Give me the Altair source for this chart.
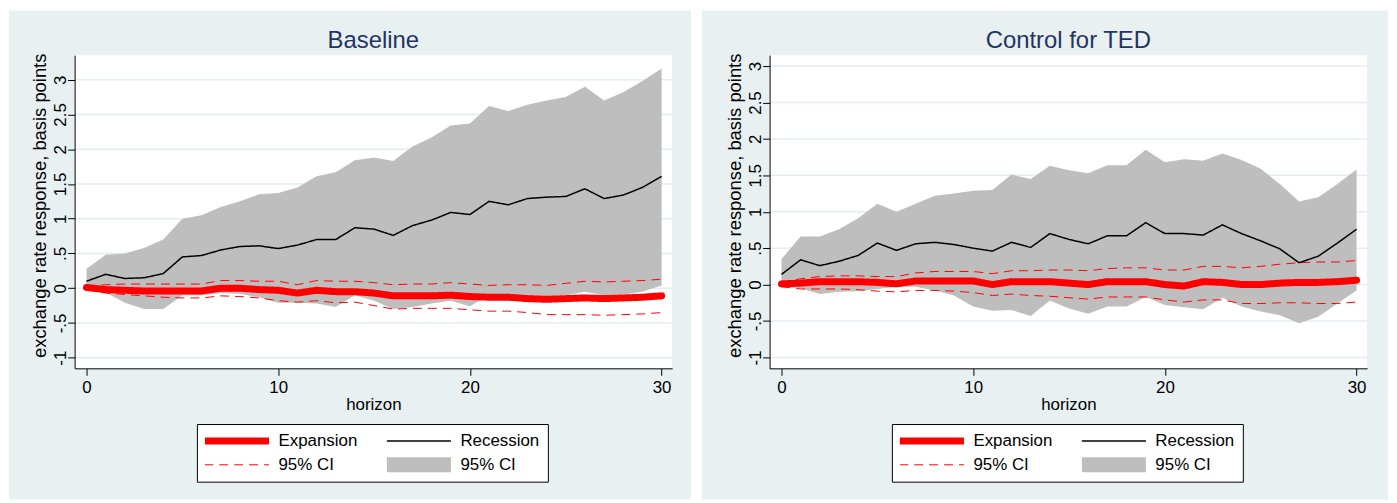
import altair as alt
import pandas as pd

FONT = "Liberation Sans, Arial, Helvetica, sans-serif"
BG = "#E8F0F2"
GRID = "#E4EDF0"
GRAY = "#BEBEBE"
RED = "#FF0000"
NAVY = "#1F3563"

HORIZON = list(range(31))
Y_TICKS = [-1, -0.5, 0, 0.5, 1, 1.5, 2, 2.5, 3]
X_TICKS = [0, 10, 20, 30]
SERIES = ["Expansion", "Recession", "CI_exp", "CI_rec"]
TITLES = ["Baseline", "Control for TED"]

# ---- Baseline panel ----
base_exp = [0.01, -0.02, -0.03, -0.04, -0.04, -0.04, -0.04, 0.00, 0.00, -0.02, -0.03, -0.07, -0.03, -0.05, -0.05,
            -0.07, -0.11, -0.11, -0.11, -0.10, -0.12, -0.13, -0.13, -0.15, -0.16, -0.15, -0.14, -0.15, -0.14, -0.13, -0.11]
base_exp_hi = [0.03, 0.05, 0.06, 0.06, 0.06, 0.06, 0.06, 0.11, 0.11, 0.10, 0.10, 0.05, 0.11, 0.10, 0.10,
               0.08, 0.05, 0.06, 0.06, 0.08, 0.06, 0.04, 0.05, 0.05, 0.04, 0.07, 0.10, 0.09, 0.10, 0.11, 0.13]
base_exp_lo = [-0.02, -0.07, -0.09, -0.11, -0.13, -0.14, -0.14, -0.11, -0.12, -0.14, -0.18, -0.20, -0.18, -0.21, -0.20,
               -0.25, -0.30, -0.29, -0.29, -0.29, -0.31, -0.33, -0.33, -0.35, -0.38, -0.38, -0.38, -0.39, -0.38, -0.37, -0.35]
base_rec = [0.10, 0.20, 0.14, 0.15, 0.21, 0.45, 0.47, 0.55, 0.60, 0.61, 0.57, 0.62, 0.70, 0.70, 0.87,
            0.85, 0.76, 0.90, 0.98, 1.09, 1.06, 1.25, 1.20, 1.29, 1.31, 1.32, 1.43, 1.29, 1.34, 1.45, 1.61]
base_rec_hi = [0.28, 0.48, 0.50, 0.58, 0.70, 1.00, 1.05, 1.17, 1.25, 1.35, 1.37, 1.45, 1.61, 1.67, 1.84,
               1.88, 1.83, 2.04, 2.17, 2.34, 2.37, 2.62, 2.55, 2.64, 2.70, 2.75, 2.90, 2.70, 2.82, 2.98, 3.16]
base_rec_lo = [-0.03, -0.06, -0.21, -0.30, -0.30, -0.10, -0.10, -0.07, -0.08, -0.13, -0.21, -0.21, -0.22, -0.27, -0.10,
               -0.18, -0.30, -0.27, -0.22, -0.18, -0.26, -0.10, -0.11, -0.12, -0.12, -0.10, -0.05, -0.10, -0.09, -0.05, 0.04]

# ---- Control for TED panel ----
ted_exp = [0.01, 0.02, 0.04, 0.04, 0.04, 0.03, 0.01, 0.05, 0.05, 0.05, 0.05, 0.00, 0.04, 0.04, 0.04,
           0.02, 0.00, 0.04, 0.04, 0.04, 0.00, -0.02, 0.04, 0.03, 0.00, 0.00, 0.02, 0.03, 0.03, 0.04, 0.06]
ted_exp_hi = [0.03, 0.08, 0.11, 0.12, 0.12, 0.11, 0.11, 0.16, 0.18, 0.18, 0.18, 0.15, 0.19, 0.19, 0.20,
              0.20, 0.19, 0.22, 0.23, 0.23, 0.20, 0.20, 0.25, 0.25, 0.23, 0.25, 0.28, 0.30, 0.31, 0.31, 0.33]
ted_exp_lo = [-0.03, -0.06, -0.06, -0.06, -0.07, -0.09, -0.10, -0.08, -0.08, -0.09, -0.11, -0.15, -0.13, -0.15, -0.16,
              -0.18, -0.20, -0.17, -0.17, -0.17, -0.21, -0.24, -0.21, -0.21, -0.26, -0.26, -0.25, -0.25, -0.26, -0.26, -0.24]
ted_rec = [0.14, 0.34, 0.26, 0.32, 0.40, 0.57, 0.47, 0.56, 0.58, 0.55, 0.50, 0.46, 0.58, 0.51, 0.70,
           0.62, 0.56, 0.67, 0.67, 0.85, 0.70, 0.70, 0.68, 0.82, 0.70, 0.60, 0.49, 0.30, 0.39, 0.57, 0.76]
ted_rec_hi = [0.35, 0.66, 0.66, 0.76, 0.91, 1.11, 1.00, 1.11, 1.22, 1.25, 1.29, 1.30, 1.51, 1.45, 1.63,
              1.57, 1.53, 1.64, 1.64, 1.85, 1.68, 1.72, 1.70, 1.80, 1.71, 1.59, 1.38, 1.14, 1.20, 1.38, 1.58]
ted_rec_lo = [-0.03, -0.05, -0.13, -0.10, -0.09, -0.06, -0.03, -0.03, -0.08, -0.15, -0.30, -0.36, -0.35, -0.43, -0.22,
              -0.33, -0.40, -0.30, -0.30, -0.17, -0.28, -0.31, -0.34, -0.18, -0.30, -0.37, -0.42, -0.53, -0.44, -0.26, -0.08]

W, H = 601, 315


def panel(title, exp, exp_lo, exp_hi, rec, rec_lo, rec_hi, ydom, bg_left, bg_right):
    band = pd.DataFrame({"h": HORIZON, "lo": rec_lo, "hi": rec_hi})
    rows = []
    for i, hh in enumerate(HORIZON):
        rows.append({"h": hh, "v": exp[i], "series": "Expansion", "part": "exp"})
        rows.append({"h": hh, "v": rec[i], "series": "Recession", "part": "rec"})
        rows.append({"h": hh, "v": exp_lo[i], "series": "CI_exp", "part": "lo"})
        rows.append({"h": hh, "v": exp_hi[i], "series": "CI_exp", "part": "hi"})
    lines = pd.DataFrame(rows)
    grid = pd.DataFrame({"v": Y_TICKS})
    one = pd.DataFrame({"k": [0]})
    ttl = pd.DataFrame({"t": [title]})

    yscale = alt.Scale(domain=ydom, nice=False, zero=False)
    xscale = alt.Scale(domain=[-0.62, 30.55], nice=False, zero=False)
    xaxis = alt.Axis(values=X_TICKS, title="horizon", grid=False, tickSize=7, tickColor="#000000",
                     domainColor="#000000", labelFontSize=17, labelPadding=4, labelColor="#000000",
                     titleFontSize=17, titleFontWeight="normal", titlePadding=1, titleColor="#000000",
                     zindex=1)
    yaxis = alt.Axis(values=Y_TICKS, title="exchange rate response, basis points", grid=False,
                     tickSize=7, tickColor="#000000", domainColor="#000000",
                     labelFontSize=17, labelAngle=270, labelAlign="center", labelBaseline="alphabetic",
                     labelPadding=2, labelColor="#000000",
                     labelExpr="replace('' + datum.value, '0.', '.')",
                     titleFontSize=18.5, titleFontWeight="normal", titlePadding=2, titleColor="#000000",
                     titleY=151, zindex=1)
    xs = alt.X("h:Q", scale=xscale, axis=xaxis)
    ys = alt.Y("v:Q", scale=yscale, axis=yaxis)

    leg = alt.Legend(title=None, orient="none", legendX=123, legendY=371, columns=2, direction="horizontal",
                     symbolType="M-3,0H13.25", symbolSize=64, clipHeight=18, labelFontSize=17, labelOffset=51,
                     columnPadding=29, rowPadding=6, padding=8, strokeColor="#000000", fillColor="#FFFFFF",
                     labelColor="#000000",
                     labelExpr="datum.label == 'CI_exp' || datum.label == 'CI_rec' ? '95% CI' : datum.label",
                     zindex=1)
    color = alt.Color("series:N", scale=alt.Scale(domain=SERIES, range=[RED, "#000000", RED, GRAY]), legend=leg)
    dash = alt.StrokeDash("series:N", scale=alt.Scale(domain=SERIES, range=[[1, 0], [1, 0], [9, 6], [1, 0]]),
                          legend=leg)
    sw = alt.StrokeWidth("series:N", scale=alt.Scale(type="ordinal", domain=SERIES, range=[7, 1.5, 1, 15]),
                         legend=leg)

    bg = alt.Chart(one).mark_rect(color=BG).encode(
        x=alt.value(bg_left), x2=alt.value(W + bg_right), y=alt.value(-45), y2=alt.value(H + 132))
    plotbg = alt.Chart(one).mark_rect(color="#FFFFFF").encode(
        x=alt.value(0), x2=alt.value(W), y=alt.value(0), y2=alt.value(H))
    head = alt.Chart(ttl).mark_text(fontSize=24, color=NAVY, font=FONT, baseline="alphabetic",
                                    align="center").encode(
        text="t:N", x=alt.value(W / 2), y=alt.value(-7))
    gridl = alt.Chart(grid).mark_rule(color=GRID, strokeWidth=1.5).encode(
        y=alt.Y("v:Q", scale=yscale, axis=yaxis))
    area = alt.Chart(band).mark_area(color=GRAY, opacity=1).encode(
        x=xs, y=alt.Y("lo:Q", scale=yscale, axis=yaxis), y2="hi:Q")
    ci = alt.Chart(lines).transform_filter("datum.series == 'CI_exp'").mark_line().encode(
        x=xs, y=ys, color=color, strokeDash=dash, strokeWidth=sw, detail="part:N")
    recl = alt.Chart(lines).transform_filter("datum.series == 'Recession'").mark_line().encode(
        x=xs, y=ys, color=color, strokeDash=dash, strokeWidth=sw, detail="part:N")
    expl = alt.Chart(lines).transform_filter("datum.series == 'Expansion'").mark_line(
        strokeCap="round", strokeJoin="round").encode(
        x=xs, y=ys, color=color, strokeDash=dash, strokeWidth=sw, detail="part:N")

    return alt.layer(bg, plotbg, head, gridl, area, ci, recl, expl).properties(width=W, height=H)


left = panel(TITLES[0], base_exp, base_exp_lo, base_exp_hi, base_rec, base_rec_lo, base_rec_hi,
             [-1.153, 3.353], -66, 19)
right = panel(TITLES[1], ted_exp, ted_exp_lo, ted_exp_hi, ted_rec, ted_rec_lo, ted_rec_hi,
              [-1.15, 3.15], -68, 21)

chart = alt.hconcat(left, right, spacing=9).resolve_scale(
    x="independent", y="independent", color="independent", strokeDash="independent", strokeWidth="independent"
).resolve_legend(color="independent", strokeDash="independent", strokeWidth="independent").properties(
    padding=0, background="#FFFFFF"
).configure_view(stroke="transparent", fill="#FFFFFF").configure_axis(
    labelFont=FONT, titleFont=FONT
).configure_legend(labelFont=FONT).configure_title(font=FONT)

chart.save("out.html", embed_options={"renderer": "svg", "actions": False})
